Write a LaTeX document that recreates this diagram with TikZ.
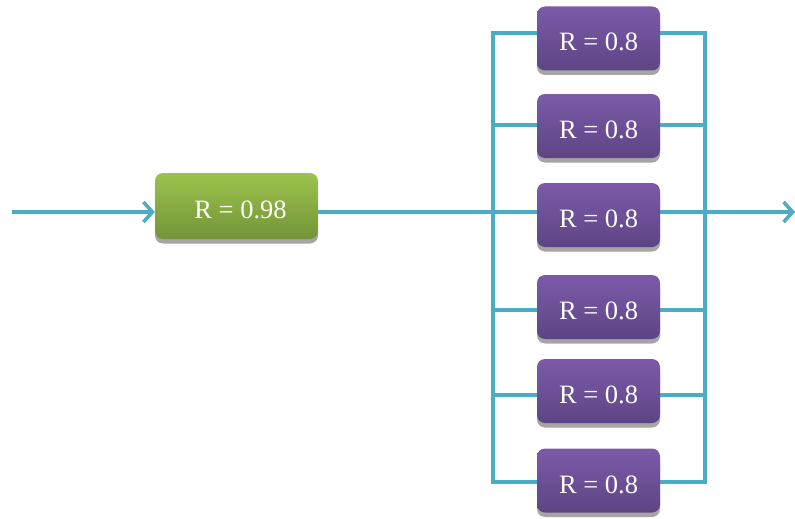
\documentclass[tikz,border=0pt]{standalone}
\usepackage{fontspec}
\setmainfont{Liberation Serif}
\usetikzlibrary{arrows.meta,shadows}
\pgfdeclarelayer{wires}
\pgfsetlayers{wires,main}
\definecolor{wire}{HTML}{4BACC6}
\definecolor{greentop}{HTML}{9CC34B}
\definecolor{greenbot}{HTML}{739439}
\definecolor{purptop}{HTML}{7C5AA9}
\definecolor{purpbot}{HTML}{5D4584}
\definecolor{shade}{HTML}{A5A5A5}
\tikzset{
  block/.style={rounded corners=8pt, text=white, inner sep=0pt,
    font=\fontsize{26.5}{30}\selectfont, text height=25pt, text depth=0pt,
    drop shadow={shadow xshift=0pt, shadow yshift=-4.5pt, fill=shade, opacity=1}},
  greenblock/.style={block, minimum width=163pt, minimum height=66pt,
    top color=greentop, bottom color=greenbot},
  purpleblock/.style={block, minimum width=123pt, minimum height=64pt,
    top color=purptop, bottom color=purpbot},
  link/.style={draw=wire, line width=3.5pt},
  flow/.style={link, -{Straight Barb[length=9pt,width=20pt,line width=3.5pt]}},
}
\begin{document}
\begin{tikzpicture}[x=1pt,y=-1pt]
  \useasboundingbox (0,0) rectangle (795,519);

  % input, output and bus points
  \coordinate (in) at (12,212);
  \coordinate (out) at (795,212);
  \coordinate (lt) at (493,33);
  \coordinate (lb) at (493,482);
  \coordinate (rt) at (705,33);
  \coordinate (rb) at (705,482);
  \coordinate (lm) at (493,212);
  \coordinate (rm) at (705,212);

  % wire heights of the parallel branches
  \coordinate (w1) at (493,33);
  \coordinate (w2) at (493,125);
  \coordinate (w3) at (493,212);
  \coordinate (w4) at (493,310);
  \coordinate (w5) at (493,395);
  \coordinate (w6) at (493,482);

  % blocks (the green label sits a little right of centre)
  \node[greenblock] (g) at (236.5,206) {\hspace*{8pt}R = 0.98};
  \node[purpleblock] (p1) at (598.5,38.5) {R = 0.8};
  \node[purpleblock] (p2) at (598.5,126) {R = 0.8};
  \node[purpleblock] (p3) at (598.5,215) {R = 0.8};
  \node[purpleblock] (p4) at (598.5,307) {R = 0.8};
  \node[purpleblock] (p5) at (598.5,391) {R = 0.8};
  \node[purpleblock] (p6) at (598.5,480.5) {R = 0.8};

  % connectors, kept behind the blocks
  \begin{pgfonlayer}{wires}
    \draw[flow] (in) -- (in -| g.west);
    \draw[link] (g.east |- lm) -- (lm);
    \draw[link, line cap=rect] (lt) -- (lb);
    \draw[link, line cap=rect] (rt) -- (rb);
    \foreach \i in {1,...,6} {
      \draw[link] (w\i) -- (w\i -| p\i.west);
      \draw[link] (w\i -| p\i.east) -- (w\i -| rt);
    }
    \draw[flow] (rm) -- (out);
  \end{pgfonlayer}
\end{tikzpicture}
\end{document}
